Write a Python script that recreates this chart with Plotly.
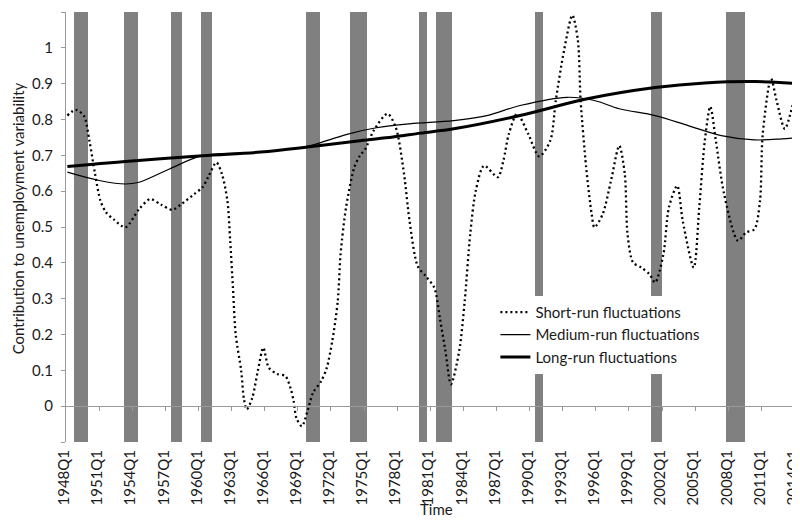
import plotly.graph_objects as go

# ---------------- data ----------------
first_year, last_year, last_q = 1948, 2014, 2
quarters = [f"{y}Q{q}" for y in range(first_year, last_year + 1) for q in range(1, 5)]
quarters = quarters[: quarters.index(f"{last_year}Q{last_q}") + 1]

tick_labels = [f"{y}Q1" for y in range(1948, 2015, 3)]

recessions = [("1948Q4", "1949Q4"), ("1953Q2", "1954Q2"), ("1957Q3", "1958Q2"),
              ("1960Q2", "1961Q1"), ("1969Q4", "1970Q4"), ("1973Q4", "1975Q1"),
              ("1980Q1", "1980Q3"), ("1981Q3", "1982Q4"), ("1990Q3", "1991Q1"),
              ("2001Q1", "2001Q4"), ("2007Q4", "2009Q2")]

short_q = ["1948Q1", "1948Q4", "1949Q3", "1950Q1", "1950Q3", "1951Q1", "1951Q3", "1952Q2",
           "1953Q2", "1954Q3", "1955Q3", "1956Q3", "1957Q3", "1958Q2", "1959Q3", "1960Q2",
           "1960Q4", "1961Q3", "1962Q1", "1962Q3", "1962Q4", "1963Q1", "1963Q2", "1963Q4",
           "1964Q1", "1964Q2", "1964Q4", "1965Q2", "1965Q4", "1966Q2", "1967Q1", "1967Q4",
           "1968Q2", "1968Q3", "1968Q4", "1969Q2", "1969Q4", "1970Q2", "1971Q1", "1971Q3",
           "1972Q1", "1972Q3", "1972Q4", "1973Q2", "1974Q1", "1974Q3", "1975Q1", "1975Q4",
           "1977Q1", "1977Q4", "1978Q3", "1979Q1", "1979Q4", "1980Q3", "1981Q2", "1981Q4",
           "1982Q2", "1982Q4", "1983Q3", "1984Q1", "1984Q3", "1985Q1", "1985Q4", "1987Q1",
           "1987Q3", "1988Q1", "1988Q4", "1989Q4", "1990Q4", "1991Q4", "1992Q2", "1993Q1",
           "1993Q4", "1994Q2", "1994Q3", "1995Q1", "1995Q3", "1995Q4", "1996Q3", "1997Q2",
           "1998Q1", "1998Q3", "1998Q4", "1999Q2", "2000Q1", "2000Q4", "2001Q2", "2002Q1",
           "2002Q3", "2003Q2", "2003Q4", "2004Q4", "2005Q2", "2005Q4", "2006Q2", "2006Q4",
           "2007Q3", "2008Q4", "2009Q3", "2010Q2", "2010Q4", "2011Q1", "2011Q4", "2012Q2",
           "2013Q1", "2013Q4", "2014Q2"]
short_v = [0.811, 0.827, 0.81, 0.74, 0.649, 0.573, 0.541, 0.52,
           0.499, 0.55, 0.578, 0.562, 0.548, 0.562, 0.592, 0.611,
           0.639, 0.68, 0.648, 0.573, 0.462, 0.331, 0.2, 0.098,
           0.019, -0.009, 0.023, 0.098, 0.163, 0.107, 0.09, 0.084,
           0.047, 0.014, -0.033, -0.056, -0.014, 0.037, 0.07, 0.107,
           0.182, 0.294, 0.424, 0.555, 0.667, 0.699, 0.718, 0.769,
           0.816, 0.778, 0.648, 0.517, 0.39, 0.362, 0.33, 0.245,
           0.154, 0.061, 0.154, 0.294, 0.481, 0.601, 0.671, 0.639,
           0.685, 0.76, 0.816, 0.76, 0.697, 0.741, 0.853, 0.993,
           1.091, 1.021, 0.853, 0.667, 0.536, 0.499, 0.536, 0.629,
           0.727, 0.648, 0.48, 0.401, 0.387, 0.368, 0.345, 0.424,
           0.555, 0.615, 0.517, 0.387, 0.555, 0.741, 0.836, 0.741,
           0.592, 0.462, 0.485, 0.494, 0.573, 0.76, 0.914, 0.853,
           0.774, 0.844, 0.895]

medium_q = ["1948Q1", "1951Q1", "1953Q2", "1954Q3", "1957Q2", "1960Q2", "1965Q3", "1969Q4",
            "1971Q3", "1973Q3", "1976Q1", "1979Q1", "1983Q1", "1986Q1", "1989Q1", "1993Q2",
            "1995Q4", "1998Q1", "2001Q2", "2004Q2", "2007Q2", "2010Q2", "2012Q4", "2014Q2"]
medium_v = [0.653, 0.629, 0.62, 0.625, 0.662, 0.699, 0.709, 0.725,
            0.741, 0.76, 0.777, 0.788, 0.797, 0.811, 0.839, 0.862,
            0.853, 0.83, 0.811, 0.783, 0.755, 0.743, 0.746, 0.75]

long_q = ["1948Q1", "1953Q2", "1960Q2", "1965Q3", "1969Q4", "1974Q3", "1977Q3", "1980Q1",
          "1983Q1", "1989Q1", "1995Q1", "2001Q2", "2005Q4", "2010Q2", "2014Q2"]
long_v = [0.669, 0.683, 0.699, 0.709, 0.723, 0.741, 0.751, 0.762,
          0.774, 0.811, 0.857, 0.889, 0.902, 0.906, 0.9]

y_min, y_max = -0.1, 1.1

# ---------------- helpers ----------------
qi = {q: i for i, q in enumerate(quarters)}


def idx(lst):
    return [qi[q] for q in lst]


rec_x = []
for a, b in recessions:
    rec_x.extend(range(qi[a], qi[b] + 1))

font_family = "Lato, 'Open Sans', sans-serif"
txt = "#1a1a1a"
axis_col = "#9a9a9a"
fs = 15

fig = go.Figure()

fig.add_trace(go.Bar(
    x=rec_x, y=[y_max - y_min] * len(rec_x), base=y_min, width=1,
    marker=dict(color="#808080", line=dict(width=0)),
    showlegend=False, hoverinfo="skip"))

fig.add_trace(go.Scatter(
    x=idx(short_q), y=short_v, mode="lines", name="Short-run fluctuations",
    line=dict(color="black", width=2.3, dash="2px,3px", shape="spline", smoothing=0.8)))
fig.add_trace(go.Scatter(
    x=idx(medium_q), y=medium_v, mode="lines", name="Medium-run fluctuations",
    line=dict(color="black", width=1.2, shape="spline", smoothing=1.0)))
fig.add_trace(go.Scatter(
    x=idx(long_q), y=long_v, mode="lines", name="Long-run fluctuations",
    line=dict(color="black", width=3, shape="spline", smoothing=1.0)))

# invisible trace to carry the zero-crossing axis
fig.add_trace(go.Scatter(x=[0], y=[0], xaxis="x2", mode="markers",
                         marker=dict(opacity=0), showlegend=False, hoverinfo="skip"))

n = len(quarters)
xr = [-0.5, n - 0.5]
tick_idx = [qi[t] for t in tick_labels if t in qi]

yt = [round(y_min + 0.1 * k, 1) for k in range(int(round((y_max - y_min) / 0.1)) + 1)]
yt_text = ["" if (v < 0 or v > 1) else ("0" if v == 0 else ("1" if v == 1 else f"{v:g}")) for v in yt]

# the page adds an 8px body margin; the plot area ends at the window's right edge
fig.update_layout(
    width=800, height=514,
    margin=dict(l=58, r=8, t=4, b=80, autoexpand=False),
    paper_bgcolor="white", plot_bgcolor="white",
    bargap=0,
    font=dict(family=font_family, size=fs, color=txt),
    xaxis=dict(range=xr, tickvals=tick_idx, ticktext=[quarters[i] for i in tick_idx],
               tickangle=-90, ticks="", showline=False, showgrid=False, zeroline=False,
               tickfont=dict(size=fs, color=txt), ticklabelstandoff=4, automargin=False,
               ticklabeloverflow="allow", ticklabelshift=-3),
    xaxis2=dict(range=xr, overlaying="x", anchor="free",
                position=(0 - y_min) / (y_max - y_min), side="bottom",
                showline=True, linecolor=axis_col, linewidth=1,
                tickvals=[i - 0.5 for i in tick_idx if i > 0] + [tick_idx[-1] + 11.5],
                ticks="outside", ticklen=4, tickcolor=axis_col, showticklabels=False,
                showgrid=False, zeroline=False),
    yaxis=dict(range=[y_min, y_max], tickvals=yt, ticktext=yt_text,
               showline=True, linecolor=axis_col, linewidth=1,
               ticks="outside", ticklen=4, tickcolor=axis_col,
               showgrid=False, zeroline=False, tickfont=dict(size=fs, color=txt),
               ticklabelstandoff=5, automargin=False),
    legend=dict(x=0.585, y=0.34, xanchor="left", yanchor="top",
                bgcolor="white", borderwidth=0, font=dict(size=fs, color=txt),
                itemwidth=30, tracegroupgap=0),
    annotations=[
        dict(text="Contribution to unemployment variability", xref="paper", yref="paper",
             x=-0.0655, y=0.52, xanchor="center", yanchor="middle", textangle=-90,
             showarrow=False, font=dict(size=fs, color=txt)),
        dict(text="Time", xref="paper", yref="paper", x=0.505, y=-0.1825,
             xanchor="center", yanchor="bottom", showarrow=False,
             font=dict(size=fs, color=txt)),
    ],
)

fig.write_html("out.html")
